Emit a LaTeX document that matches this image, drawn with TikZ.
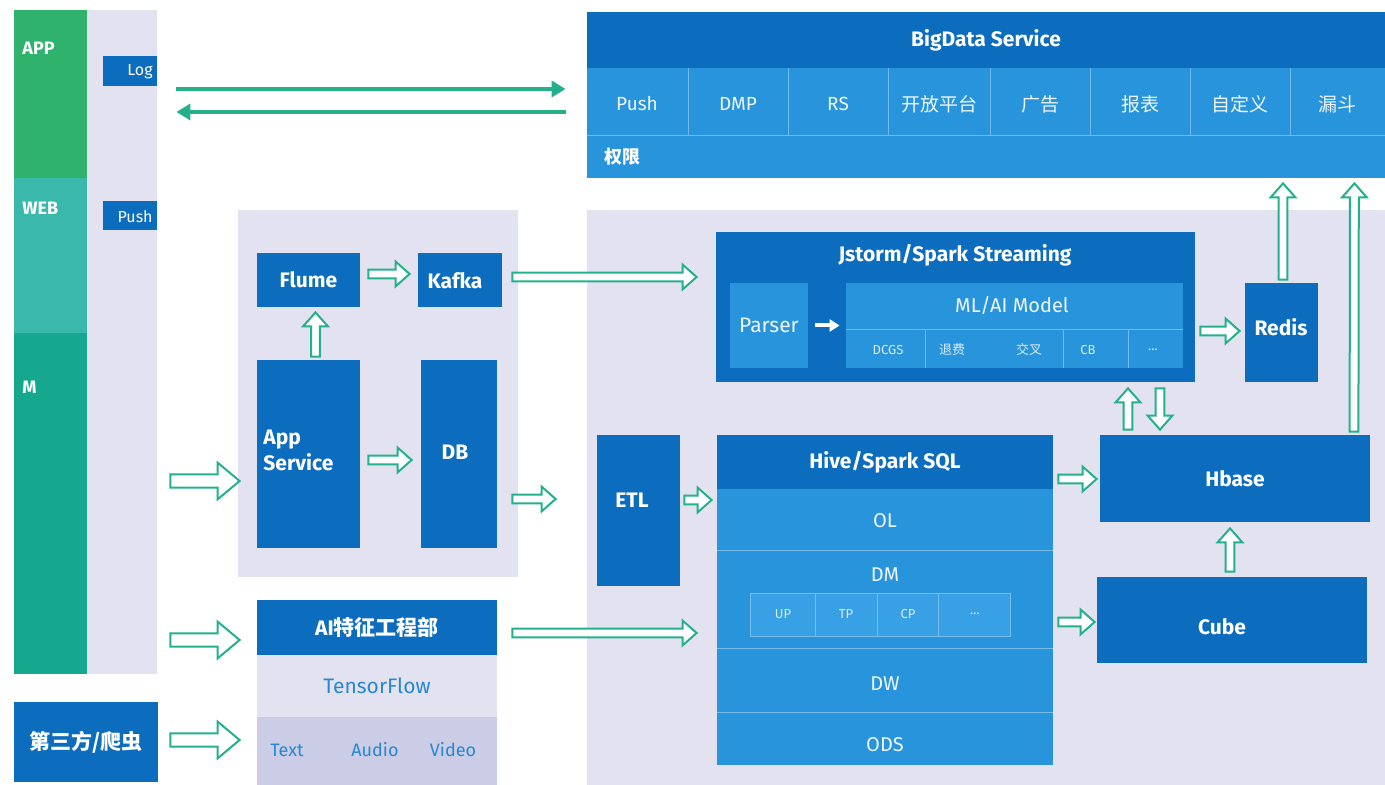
\documentclass[tikz,border=0pt]{standalone}
\usepackage{fontspec}
\setmainfont{Fira Sans}
\newfontfamily\cjk{Noto Sans CJK SC}
\usetikzlibrary{positioning,calc,fit,arrows.meta}

\definecolor{darkblue}{RGB}{12,108,190}
\definecolor{midblue}{RGB}{40,148,220}
\definecolor{cellblue}{RGB}{56,160,228}
\definecolor{panel}{RGB}{226,226,240}
\definecolor{band}{RGB}{203,204,229}
\definecolor{appgreen}{RGB}{46,178,108}
\definecolor{webteal}{RGB}{58,184,172}
\definecolor{mteal}{RGB}{22,168,142}
\definecolor{flowgreen}{RGB}{36,176,140}
\definecolor{tfblue}{RGB}{40,136,206}

\tikzset{
  box/.style={fill=darkblue, inner sep=0pt},
  sub/.style={fill=midblue, inner sep=0pt},
  pane/.style={fill=panel, inner sep=0pt},
  tag/.style={inner sep=0pt, text=white, font=\fontsize{9}{11}\selectfont\bfseries},
  head/.style={inner sep=0pt, text=white, font=\fontsize{10.5}{13}\selectfont\bfseries},
  cell/.style={inner sep=0pt, text=white!92!midblue, font=\fontsize{9.5}{11}\selectfont},
  mini/.style={inner sep=0pt, text=white!82!midblue, font=\fontsize{6.5}{8}\selectfont},
  sepline/.style={draw=white!35!midblue, line width=0.5pt},
  flow/.style={draw=flowgreen, line width=1pt, fill=white},
  thinflow/.style={draw=flowgreen, line width=2pt, -{Triangle[length=7pt,width=8pt]}},
}

% hollow block arrow: shaft half width, head half width, head length, from, to
\newcommand{\blockarrow}[5]{%
  \coordinate (ba-s) at (#4);
  \coordinate (ba-e) at (#5);
  \coordinate (ba-c) at ($(ba-e)!#3!(ba-s)$);
  \draw[flow] ($(ba-s)!#1!90:(ba-e)$) -- ($(ba-c)!#1!90:(ba-e)$) -- ($(ba-c)!#2!90:(ba-e)$) -- (ba-e)
    -- ($(ba-c)!#2!-90:(ba-e)$) -- ($(ba-c)!#1!-90:(ba-e)$) -- ($(ba-s)!#1!-90:(ba-e)$) -- cycle;}
\newcommand{\flowarrow}[2]{\blockarrow{2.2pt}{6.2pt}{7pt}{#1}{#2}}
\newcommand{\bigflowarrow}[2]{\blockarrow{3.3pt}{9.2pt}{11pt}{#1}{#2}}

\begin{document}
\begin{tikzpicture}[x=0.5pt, y=-0.5pt]
    \fill[white] (0,0) rectangle (1385,785);
    \useasboundingbox (0,0) rectangle (1385,785);

    % Clients
    \node[pane, fit={(87,10) (157,674)}] (clients) {};
    \node[fill=appgreen, inner sep=0pt, fit={(14,10) (87,178)}] (app) {};
    \node[fill=webteal, inner sep=0pt, fit={(14,178) (87,333)}] (web) {};
    \node[fill=mteal, inner sep=0pt, fit={(14,333) (87,674)}] (mob) {};
    \foreach \n/\t/\y in {app/APP/48, web/WEB/208, mob/M/387}
        \node[tag, anchor=west] (\n-t) at (22,\y) {\t};
    \node[box, fit={(103,56) (157,86)}] (log) {};
    \node[tag, font=\fontsize{8}{10}\selectfont, anchor=east] (log-t) at (153,72) {Log};
    \node[box, fit={(103,201) (157,230)}] (push) {};
    \node[tag, font=\fontsize{8}{10}\selectfont, anchor=east] (push-t) at (153,217) {Push};

    % Third party
    \node[box, fit={(14,702) (158,782)}] (crawler) {};
    \node[head] (crawler-t) at (crawler) {{\cjk 第三方/爬虫}};

    % Services
    \node[pane, fit={(238,210) (518,577)}] (svc) {};
    \node[box, fit={(257,253) (360,307)}] (flume) {};
    \node[head] (flume-t) at (flume) {Flume};
    \node[box, fit={(418,253) (502,307)}] (kafka) {};
    \node[head] (kafka-t) at (455,281) {Kafka};
    \node[box, fit={(257,360) (360,548)}] (appsvc) {};
    \node[head, align=left, anchor=west] (appsvc-t) at (263,450) {App\\Service};
    \node[box, fit={(421,360) (497,548)}] (db) {};
    \node[head] (db-t) at (455,452) {DB};

    % AI feature engineering
    \node[box, fit={(257,600) (497,655)}] (aife) {};
    \node[head] (aife-t) at (aife) {AI{\cjk 特征工程部}};
    \node[pane, fit={(257,655) (497,717)}] (tf) {};
    \node[text=tfblue, font=\fontsize{10.5}{12}\selectfont] (tf-t) at (tf) {TensorFlow};
    \node[fill=band, inner sep=0pt, fit={(257,717) (497,785)}] (media) {};
    \foreach \x/\t in {287/Text, 375/Audio, 453/Video}
        \node[text=tfblue, font=\fontsize{9}{11}\selectfont] (media-\t) at (\x,750) {\t};

    % BigData Service
    \node[box, fit={(587,12) (1385,68)}] (bdhead) {};
    \node[head] (bdhead-t) at (bdhead) {BigData Service};
    \node[sub, fit={(587,68) (1385,178)}] (bdbody) {};
    \draw[sepline] (587,136) -- (1385,136);
    \foreach \x in {688,788,888,990,1090,1190,1290}
        \draw[sepline] (\x,68) -- (\x,136);
    \foreach \x/\t in {637/Push, 738/DMP, 838/RS, 939/{\cjk 开放平台}, 1040/{\cjk 广告}, 1140/{\cjk 报表}, 1240/{\cjk 自定义}, 1337/{\cjk 漏斗}}
        \node[cell] (bd-\x) at (\x,104) {\t};
    \node[tag, anchor=west] (auth) at (604,157) {{\cjk 权限}};

    % Platform
    \node[pane, fit={(587,210) (1385,785)}] (platform) {};

    % Streaming
    \node[box, fit={(716,232) (1195,382)}] (stream) {};
    \node[head] (stream-t) at (955,255) {Jstorm/Spark Streaming};
    \node[sub, fit={(730,283) (808,368)}] (parser) {};
    \node[cell, font=\fontsize{10.5}{12}\selectfont] (parser-t) at (parser) {Parser};
    \node[sub, fit={(846,283) (1183,368)}] (model) {};
    \node[cell, font=\fontsize{10}{12}\selectfont] (model-t) at (1012,305) {ML/AI Model};
    \draw[sepline] (846,330) -- (1183,330);
    \foreach \x in {925,1063,1128}
        \draw[sepline] (\x,330) -- (\x,368);
    \foreach \x/\t in {888/DCGS, 952/{\cjk 退费}, 1029/{\cjk 交叉}, 1088/CB, 1153/\ldots}
        \node[mini] (model-\x) at (\x,350) {\t};
    \draw[white, line width=2pt, -{Triangle[length=5pt,width=6pt]}] ($(parser.east)+(7,0)$) -- ($(model.west)+(-6,0)$);
    \node[box, fit={(1245,283) (1318,382)}] (redis) {};
    \node[head] (redis-t) at (1281,327) {Redis};

    % Batch
    \node[box, fit={(597,435) (680,586)}] (etl) {};
    \node[head] (etl-t) at (632,500) {ETL};
    \node[box, fit={(717,435) (1053,489)}] (hivehead) {};
    \node[head] (hivehead-t) at (hivehead) {Hive/Spark SQL};
    \node[sub, fit={(717,489) (1053,765)}] (hive) {};
    \foreach \y in {550,648,712}
        \draw[sepline] (717,\y) -- (1053,\y);
    \foreach \y/\t in {521/OL, 575/DM, 684/DW, 745/ODS}
        \node[cell, font=\fontsize{10}{12}\selectfont] (hive-\t) at (885,\y) {\t};
    \node[fill=cellblue, draw=white!30!cellblue, line width=0.5pt, inner sep=0pt, fit={(750,593) (1010,636)}] (marts) {};
    \foreach \x in {815,877,938}
        \draw[sepline, draw=white!30!cellblue] (\x,593) -- (\x,636);
    \foreach \x/\t in {783/UP, 846/TP, 908/CP, 975/\ldots}
        \node[mini] (marts-\x) at (\x,614) {\t};
    \node[box, fit={(1100,435) (1370,522)}] (hbase) {};
    \node[head] (hbase-t) at (hbase) {Hbase};
    \node[box, fit={(1097,577) (1367,663)}] (cube) {};
    \node[head] (cube-t) at (1222,627) {Cube};

    % Log / Push flow
    \draw[thinflow] ($(log.east)+(19,18)$) -- ($(bdbody.west)+(-21,-34)$);
    \draw[thinflow] ($(bdbody.west)+(-21,-11)$) -- ($(log.east)+(19,41)$);

    % Data flow
    \bigflowarrow{$(clients.east)+(13,139)$}{$(svc.west)+(2,87.5)$}
    \bigflowarrow{$(clients.east)+(13,298)$}{$(aife.west)+(-17,12.5)$}
    \bigflowarrow{$(crawler.east)+(12,-2)$}{$(media.west)+(-17,-11)$}
    \flowarrow{$(flume.east)+(8,-6)$}{$(kafka.west)+(-8,-6)$}
    \flowarrow{$(appsvc.north)+(7,-3)$}{$(flume.south)+(7,5)$}
    \flowarrow{$(appsvc.east)+(8,6)$}{$(db.west)+(-9,6)$}
    \flowarrow{$(db.east)+(15,45)$}{$(etl.west)+(-41,-11.5)$}
    \flowarrow{$(kafka.east)+(10,-3)$}{$(stream.west)+(-19,-30)$}
    \flowarrow{$(aife.east)+(15,5.5)$}{$(hive.west)+(-20,6)$}
    \flowarrow{$(etl.east)+(4,-10.5)$}{$(hive.west)+(-5,-127)$}
    \flowarrow{$(stream.east)+(5,24)$}{$(redis.west)+(-5,-1.5)$}
    \flowarrow{$(redis.north)+(1.5,-3)$}{$(redis.north |- bdbody.south)+(1.5,5)$}
    \flowarrow{$(hbase.north)+(119,-3)$}{$(bdbody.south east)+(-31,5)$}
    \flowarrow{$(hbase.north)+(-107,-5)$}{$(stream.south)+(172.5,6)$}
    \flowarrow{$(stream.south)+(204.5,6)$}{$(hbase.north)+(-75,-5)$}
    \flowarrow{$(hivehead.east)+(5,17)$}{$(hbase.west)+(-3,0.5)$}
    \flowarrow{$(hive.east)+(5,-5)$}{$(cube.west)+(-2,2)$}
    \flowarrow{$(cube.north)+(-2,-5)$}{$(hbase.south)+(-5,6)$}
\end{tikzpicture}
\end{document}
